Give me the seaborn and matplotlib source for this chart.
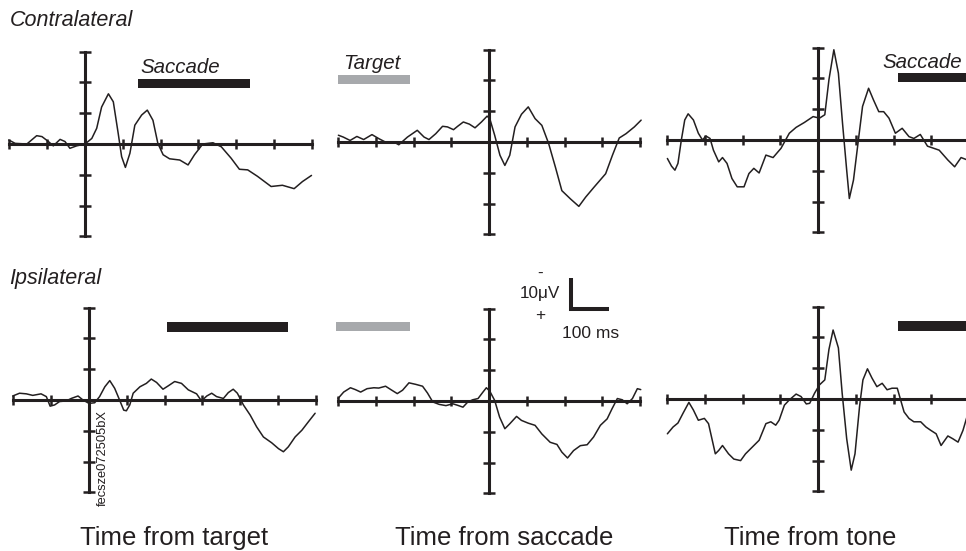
import matplotlib
matplotlib.use("Agg")
import matplotlib.pyplot as plt
import seaborn as sns
import pandas as pd

# ---------------- data (ms, microvolts; negative plotted upward) ----------------
# Contralateral, time from target
con_target_t = [-202, -185, -154, -128, -114, -97, -84, -66, -53, -40, -22, 0, 18, 31, 44, 62, 75, 88,
                97, 107, 119, 132, 150, 165, 180, 193, 207, 224, 251, 273, 290, 312, 339, 361, 387,
                409, 431, 457, 493, 523, 554, 576, 600]
con_target_v = [-1.3, -0.2, 0.0, -2.7, -2.4, -0.8, 0.6, -1.5, -0.8, 1.4, 0.6, 0.0, -1.8, -5.1, -12.0,
                -16.3, -13.7, -3.4, 4.1, 7.6, 3.0, -6.1, -9.4, -11.0, -7.7, -0.2, 3.5, 4.8, 5.2, 6.8,
                3.5, 0.0, -0.4, 0.9, 4.6, 8.2, 8.4, 10.5, 13.8, 13.4, 14.5, 12.2, 10.2]

# Contralateral, time from saccade
con_sacc_t = [-399, -386, -368, -350, -332, -310, -292, -270, -252, -239, -216, -190, -172, -159, -141,
              -123, -110, -94, -83, -68, -52, -37, -20, -5, 2, 15, 29, 42, 55, 69, 86, 104, 122, 140,
              158, 176, 193, 216, 238, 256, 278, 309, 327, 345, 363, 385, 403]
con_sacc_v = [-2.2, -1.6, -0.5, -1.8, -0.8, -2.4, -1.1, 0.3, 0.0, 0.9, -1.6, -3.8, -1.6, -0.8, -2.7,
              -5.1, -4.9, -4.0, -5.1, -6.5, -5.8, -4.6, -6.5, -8.4, -7.6, -2.2, 4.3, 7.6, 4.3, -4.9,
              -9.0, -11.4, -7.6, -5.4, 0.5, 8.2, 15.8, 18.5, 20.9, 17.9, 14.7, 10.3, 4.3, -1.3, -2.7,
              -4.9, -7.1]

# Contralateral, time from tone
con_tone_t = [-399, -388, -379, -371, -362, -353, -344, -330, -317, -306, -297, -286, -277, -263, -253,
              -241, -228, -214, -196, -183, -170, -156, -138, -119, -98, -76, -58, -36, -13, 4, 18,
              29, 42, 54, 65, 76, 83, 94, 107, 118, 134, 147, 161, 174, 188, 205, 223, 241, 254, 271,
              290, 321, 344, 362, 379, 396]
con_tone_v = [6.0, 8.5, 9.8, 7.6, 0.0, -6.5, -8.5, -6.5, -2.2, 0.0, -1.3, -0.5, 3.3, 7.1, 5.7, 7.6,
              12.5, 15.2, 15.2, 10.9, 9.2, 10.7, 4.9, 5.7, 2.7, -2.2, -4.1, -5.7, -7.6, -7.1, -8.2,
              -19.6, -29.3, -21.7, -5.4, 9.8, 19.0, 13.0, 0.0, -10.9, -16.8, -13.0, -9.2, -9.2, -7.1,
              -2.2, -3.8, -1.1, -0.5, -1.8, 2.0, 3.3, 6.5, 8.7, 5.7, 6.5]

# Ipsilateral, time from target
ips_target_t = [-202, -184, -166, -149, -127, -113, -103, -91, -78, -60, -47, -29, -16, 0, 15, 28, 42,
                55, 68, 81, 92, 99, 108, 117, 135, 152, 165, 179, 196, 210, 227, 245, 263, 285, 298,
                312, 325, 338, 356, 369, 382, 393, 409, 427, 444, 462, 484, 502, 515, 528, 546, 564,
                581, 599]
ips_target_v = [-1.3, -2.2, -2.0, -1.5, -2.0, -1.1, 2.0, 1.6, 0.5, 0.3, -0.5, -1.3, 0.0, 1.1, 0.9,
                -1.1, -4.3, -6.3, -3.8, 0.0, 3.3, 3.5, 1.6, -2.2, -4.3, -5.4, -6.8, -5.7, -3.5, -4.6,
                -6.0, -5.4, -3.3, -2.0, 0.3, -1.3, -2.2, -1.1, -0.5, -2.4, -3.5, -2.2, 1.6, 4.9, 8.7,
                12.0, 13.9, 15.8, 16.8, 15.2, 12.0, 9.8, 7.1, 4.3]

# Ipsilateral, time from saccade
ips_sacc_t = [-400, -385, -367, -354, -340, -323, -305, -292, -274, -260, -243, -229, -212, -194, -176,
              -163, -149, -132, -114, -96, -83, -69, -56, -43, -29, -16, -7, 2, 15, 28, 42, 55, 73,
              86, 104, 122, 140, 162, 180, 193, 208, 224, 242, 260, 277, 295, 313, 326, 340, 353,
              366, 380, 393, 402]
ips_sacc_v = [-0.8, -2.9, -4.3, -3.7, -2.9, -4.0, -4.3, -4.2, -4.8, -3.7, -2.4, -3.5, -5.9, -5.4, -4.8,
              -2.6, 0.3, 1.1, 1.5, 0.9, 1.4, 2.0, 0.3, -0.4, -0.8, -2.9, -4.3, -3.2, -0.2, 5.2, 9.0,
              7.4, 5.0, 6.3, 7.2, 7.9, 10.7, 13.4, 14.1, 16.6, 18.5, 16.1, 14.5, 14.2, 11.7, 7.9, 5.8,
              2.5, -0.8, -0.4, 0.9, -0.8, -4.0, -3.7]

# Ipsilateral, time from tone
ips_tone_t = [-399, -384, -371, -357, -342, -330, -317, -301, -290, -272, -263, -253, -237, -223, -205,
              -192, -174, -156, -138, -125, -112, -103, -89, -76, -58, -45, -31, -22, -9, 4, 18, 29,
              40, 54, 64, 76, 88, 98, 110, 119, 131, 143, 156, 170, 183, 196, 210, 228, 241, 254,
              272, 286, 299, 313, 326, 344, 357, 371, 384, 396]
ips_tone_v = [11.3, 9.1, 7.8, 4.5, 1.1, 3.6, 6.9, 6.3, 8.0, 17.8, 16.7, 15.1, 17.8, 19.5, 20.0, 17.8,
              15.6, 13.4, 8.0, 7.4, 8.5, 6.9, 2.0, 0.3, -1.6, -0.8, 1.6, 1.4, -1.9, -4.6, -6.2, -16.1,
              -22.4, -16.6, -1.9, 12.9, 23.1, 17.8, 2.5, -6.2, -9.8, -6.8, -4.0, -5.1, -3.0, -3.5,
              -3.5, 4.2, 6.3, 7.4, 7.4, 9.1, 10.2, 11.3, 15.1, 12.0, 12.9, 14.0, 10.2, 5.2]

# event bars (start ms, end ms, level uV)
bar_start = [140, -400, 211, 207, -405, 211]
bar_end = [438, -210, 460, 528, -208, 460]
bar_level = [-19.6, -20.4, -20.4, -23.7, -24.3, -23.7]
bar_kind = ["Saccade", "Target", "Saccade", "Saccade", "Target", "Saccade"]
bar_label = ["Saccade", "Target", "Saccade", None, None, None]

row_labels = ["Contralateral", "Ipsilateral"]
col_labels = ["Time from target", "Time from saccade", "Time from tone"]
x_ranges = [(-200, 600), (-400, 400), (-400, 400)]
y_range = (-30, 30)
scale_ms = 100
scale_uv = 10

series = [
    (con_target_t, con_target_v), (con_sacc_t, con_sacc_v), (con_tone_t, con_tone_v),
    (ips_target_t, ips_target_v), (ips_sacc_t, ips_sacc_v), (ips_tone_t, ips_tone_v),
]

# ---------------- style ----------------
sns.set_theme(style="white")
plt.rcParams['font.family'] = ['Liberation Sans', 'DejaVu Sans']

INK = "#231f20"
GREY = "#a7a9ac"
W, H = 966, 551
fig = plt.figure(figsize=(W / 100, H / 100), dpi=100)
fig.patch.set_facecolor("white")

SX = 0.3775   # px per ms
SY = 3.08     # px per uV

# panel origins (pixel position of t=0, v=0)
origins = [(85, 144), (489, 142), (818, 140), (89, 400), (489, 401), (818, 399)]
label_pos = [(146, -23.0), (-387, -23.6), (170, -23.3)]


def make_ax(ox, oy, xlim, ylim):
    x0, x1 = xlim
    yt, yb = ylim
    left = ox + x0 * SX
    right = ox + x1 * SX
    top = oy + yt * SY
    bottom = oy + yb * SY
    ax = fig.add_axes([left / W, 1 - bottom / H, (right - left) / W, (bottom - top) / H])
    return ax


for i, ((t, v), (ox, oy)) in enumerate(zip(series, origins)):
    xr = x_ranges[i % 3]
    xlim = (xr[0] - 15, xr[1] + 15)
    ylim = (-45, 36)
    ax = make_ax(ox, oy, xlim, ylim)
    ax.set_facecolor("none")
    df = pd.DataFrame({"t": t, "v": v})
    sns.lineplot(data=df, x="t", y="v", ax=ax, color=INK, linewidth=1.1,
                 estimator=None, sort=False, zorder=5,
                 solid_joinstyle="round", solid_capstyle="round")
    # event bar
    color = INK if bar_kind[i] == "Saccade" else GREY
    ax.barh(bar_level[i], bar_end[i] - bar_start[i], left=bar_start[i], height=3.0,
            color=color, edgecolor="none", zorder=4)
    lab = bar_label[i]
    if lab:
        lx, ly = label_pos[i]
        ax.text(lx, ly, lab, style="italic", fontsize=14.8, color=INK,
                ha="left", va="baseline")
    ax.set_xlim(*xlim)
    ax.set_ylim(ylim[1], ylim[0])   # negative up
    ax.set_xlabel("")
    ax.set_ylabel("")
    for s in ("top", "right"):
        ax.spines[s].set_visible(False)
    for s in ("left", "bottom"):
        ax.spines[s].set_visible(True)
        ax.spines[s].set_position(("data", 0))
        ax.spines[s].set_linewidth(2.2)
        ax.spines[s].set_color(INK)
    right_bound = xr[1] if i % 3 != 2 else xr[1] + 30
    ax.spines["bottom"].set_bounds(xr[0], right_bound)
    ax.spines["left"].set_bounds(*y_range)
    ax.set_xticks(range(xr[0], xr[1] + 1, 100))
    ax.set_yticks(range(y_range[0], y_range[1] + 1, 10))
    ax.tick_params(axis="both", which="both", bottom=True, left=True, top=False, right=False,
                   direction="inout", width=1.8, color=INK,
                   labelbottom=False, labelleft=False)
    ax.tick_params(axis="x", length=7)
    ax.tick_params(axis="y", length=8)
    ax.grid(False)

    if i == 3:
        ax.text(37, 34.5, "fecsze072505bX", rotation=90, rotation_mode="anchor",
                ha="left", va="center", fontsize=9.3, color=INK)
    if i == 4:
        # calibration bar
        cx, cy = 218, -29.9
        ax.plot([cx, cx, cx + scale_ms], [cy - scale_uv, cy, cy], color=INK,
                linewidth=2.9, solid_joinstyle="miter", solid_capstyle="butt", clip_on=False)
        ax.text(188, -35.0, f"{scale_uv}\u03bcV", fontsize=12.3, color=INK,
                ha="right", va="center")
        ax.text(135, -41.3, "-", fontsize=12.3, color=INK, ha="center", va="center")
        ax.text(135, -27.6, "+", fontsize=12.3, color=INK, ha="center", va="center")
        ax.text(194, -22.0, f"{scale_ms} ms", fontsize=12.5, color=INK,
                ha="left", va="center")

# row labels
fig.text(10 / W, 1 - 26 / H, row_labels[0], style="italic", fontsize=15.5, color=INK,
         ha="left", va="baseline")
fig.text(9 / W, 1 - 284 / H, row_labels[1], style="italic", fontsize=15.5, color=INK,
         ha="left", va="baseline")
# column labels
for cx, lab in zip([174, 504, 810], col_labels):
    fig.text(cx / W, 1 - 545 / H, lab, fontsize=18.5, color=INK, ha="center", va="baseline")

fig.savefig("out.png", dpi=100, facecolor="white")
